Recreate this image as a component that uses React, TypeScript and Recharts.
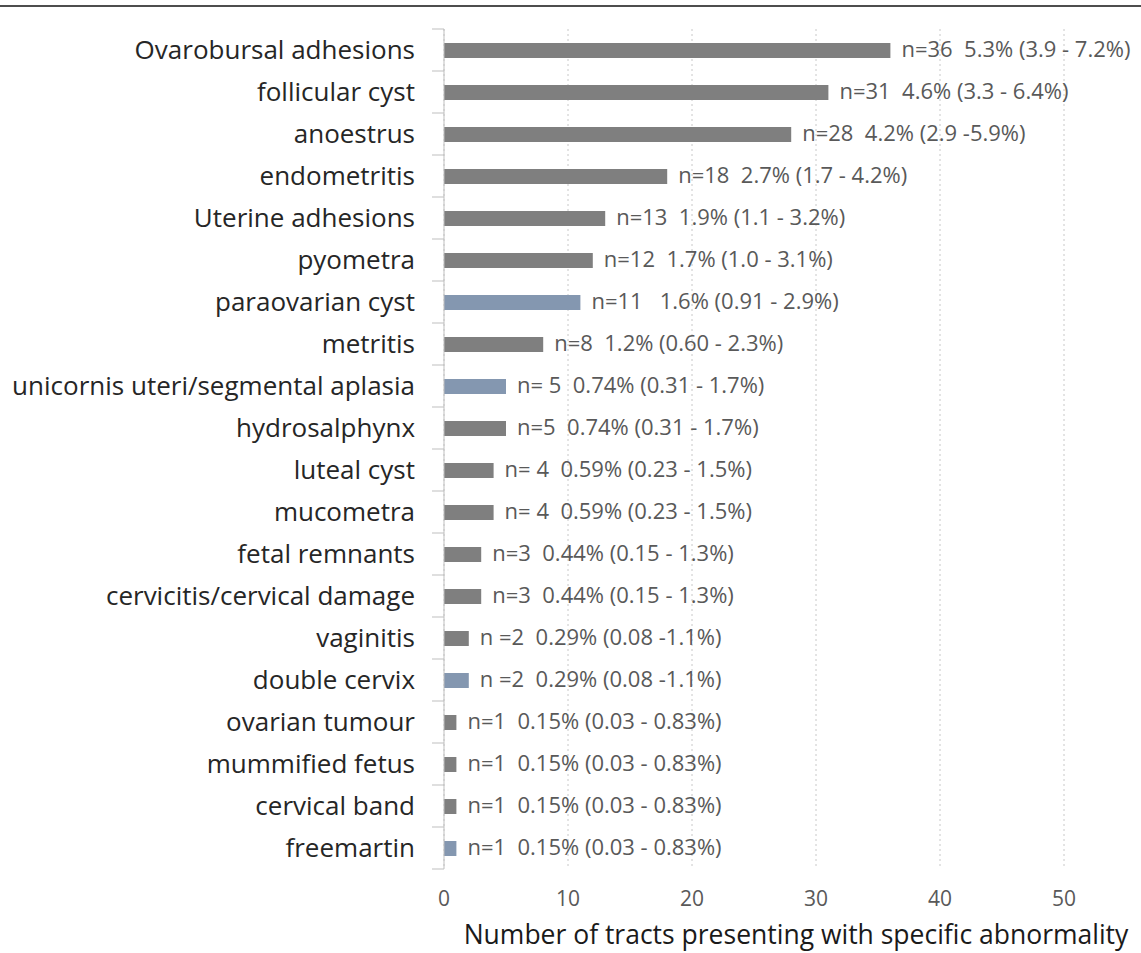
import { BarChart, Bar, XAxis, YAxis, CartesianGrid, Cell, LabelList } from "recharts";

const categories = [
  "Ovarobursal adhesions",
  "follicular cyst",
  "anoestrus",
  "endometritis",
  "Uterine adhesions",
  "pyometra",
  "paraovarian cyst",
  "metritis",
  "unicornis uteri/segmental aplasia",
  "hydrosalphynx",
  "luteal cyst",
  "mucometra",
  "fetal remnants",
  "cervicitis/cervical damage",
  "vaginitis",
  "double cervix",
  "ovarian tumour",
  "mummified fetus",
  "cervical band",
  "freemartin",
];

const counts = [36, 31, 28, 18, 13, 12, 11, 8, 5, 5, 4, 4, 3, 3, 2, 2, 1, 1, 1, 1];

const valueLabels = [
  "n=36  5.3% (3.9 - 7.2%)",
  "n=31  4.6% (3.3 - 6.4%)",
  "n=28  4.2% (2.9 -5.9%)",
  "n=18  2.7% (1.7 - 4.2%)",
  "n=13  1.9% (1.1 - 3.2%)",
  "n=12  1.7% (1.0 - 3.1%)",
  "n=11   1.6% (0.91 - 2.9%)",
  "n=8  1.2% (0.60 - 2.3%)",
  "n= 5  0.74% (0.31 - 1.7%)",
  "n=5  0.74% (0.31 - 1.7%)",
  "n= 4  0.59% (0.23 - 1.5%)",
  "n= 4  0.59% (0.23 - 1.5%)",
  "n=3  0.44% (0.15 - 1.3%)",
  "n=3  0.44% (0.15 - 1.3%)",
  "n =2  0.29% (0.08 -1.1%)",
  "n =2  0.29% (0.08 -1.1%)",
  "n=1  0.15% (0.03 - 0.83%)",
  "n=1  0.15% (0.03 - 0.83%)",
  "n=1  0.15% (0.03 - 0.83%)",
  "n=1  0.15% (0.03 - 0.83%)",
];

// blue bars in the original
const congenital = [
  false, false, false, false, false, false, true, false, true, false,
  false, false, false, false, false, true, false, false, false, true,
];

const xTicks = [0, 10, 20, 30, 40, 50];

const data = categories.map((name, i) => ({
  name,
  count: counts[i],
  label: valueLabels[i],
  congenital: congenital[i],
}));

const BAND = 42;

function CategoryTick(props: any) {
  const { x, y, payload, index } = props;
  return (
    <g>
      <line x1={x - 12} y1={y - BAND / 2} x2={x} y2={y - BAND / 2} stroke="#bfbfbf" />
      {index === data.length - 1 && (
        <line x1={x - 12} y1={y + BAND / 2} x2={x} y2={y + BAND / 2} stroke="#bfbfbf" />
      )}
      <text x={x - 29} y={y} dy="0.35em" textAnchor="end" fontSize={26} fill="#262626">
        {payload.value}
      </text>
    </g>
  );
}

function ValueLabel(props: any) {
  const { x, y, width, height, value } = props;
  return (
    <text
      x={x + width + 11}
      y={y + height / 2}
      dy="0.3em"
      fontSize={22}
      fill="#595959"
      style={{ whiteSpace: "pre" }}
    >
      {value}
    </text>
  );
}

function AxisTitle(props: any) {
  const { viewBox } = props;
  return (
    <text
      x={viewBox.x + viewBox.width / 2 + 42}
      y={viewBox.y + viewBox.height - 9}
      textAnchor="middle"
      fontSize={26.5}
      fill="#1a1a1a"
    >
      Number of tracts presenting with specific abnormality
    </text>
  );
}

export default function App() {
  return (
    <div
      style={{
        position: "absolute",
        left: 0,
        top: 0,
        width: 1141,
        height: 953,
        background: "#fff",
        fontFamily: "'Open Sans', sans-serif",
      }}
    >
      <div style={{ position: "absolute", left: 0, top: 5, width: 1141, height: 2, background: "#4d4d4d" }} />
      <BarChart
        width={1141}
        height={953}
        data={data}
        layout="vertical"
        margin={{ top: 29, right: 77, bottom: 0, left: 0 }}
      >
        <CartesianGrid horizontal={false} stroke="#c8c8c8" strokeDasharray="2 3" />
        <XAxis
          type="number"
          domain={[0, 50]}
          ticks={xTicks}
          axisLine={false}
          tickLine={false}
          tickMargin={16}
          height={84}
          tick={{ fontSize: 21, fill: "#595959" }}
          label={(p: any) => <AxisTitle {...p} />}
        />
        <YAxis
          type="category"
          dataKey="name"
          width={444}
          axisLine={{ stroke: "#bfbfbf" }}
          tickLine={false}
          tickSize={0}
          tickMargin={0}
          interval={0}
          tick={<CategoryTick />}
        />
        <Bar dataKey="count" barSize={15} isAnimationActive={false}>
          {data.map((d, i) => (
            <Cell key={i} fill={d.congenital ? "#8497b0" : "#7f7f7f"} />
          ))}
          <LabelList dataKey="label" content={(p: any) => <ValueLabel {...p} />} />
        </Bar>
      </BarChart>
    </div>
  );
}
